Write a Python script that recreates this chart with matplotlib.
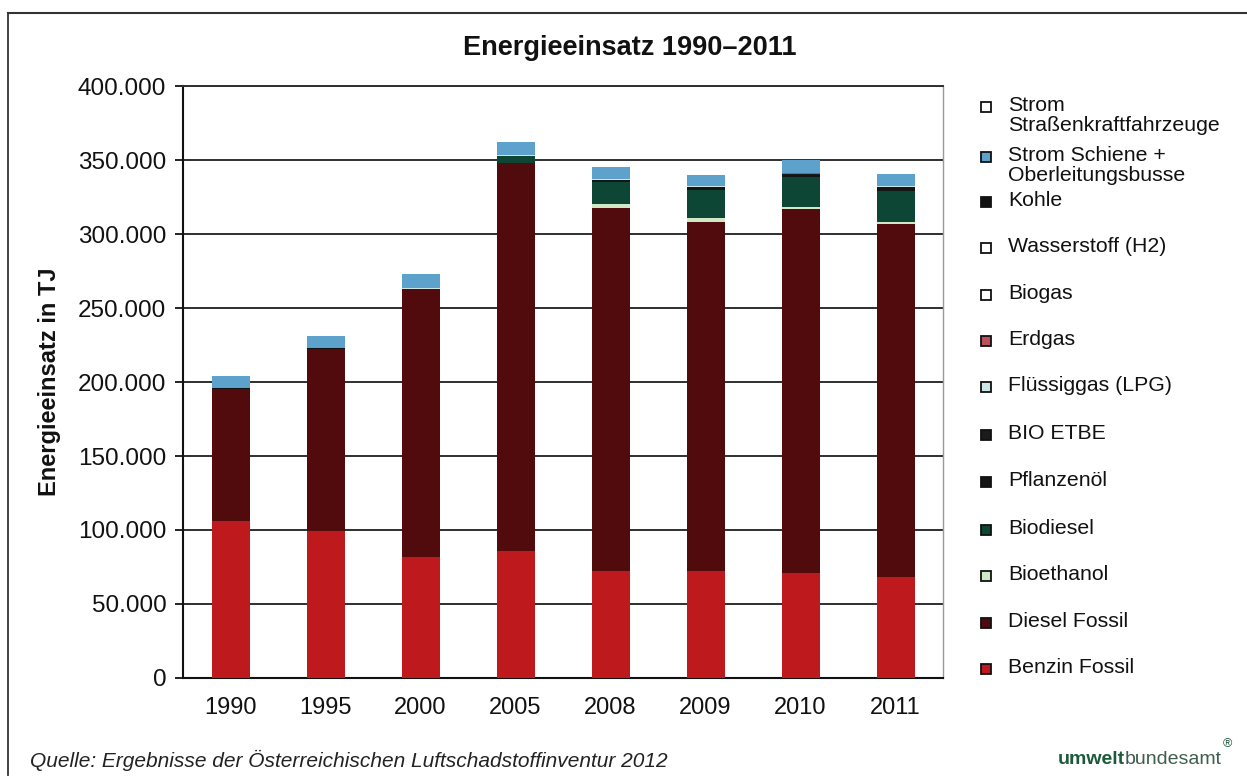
import matplotlib
matplotlib.use("Agg")
import matplotlib.pyplot as plt
from matplotlib.patches import Rectangle
from matplotlib.lines import Line2D
import numpy as np

plt.rcParams['font.family'] = ['Liberation Sans', 'DejaVu Sans']

# ---- data (TJ) -------------------------------------------------------------
years = ["1990", "1995", "2000", "2005", "2008", "2009", "2010", "2011"]

benzin_fossil = [106000, 99000, 82000, 86000, 72000, 72000, 71000, 68000]
diesel_fossil = [89000, 123000, 181000, 262000, 245500, 236000, 246000, 238500]
bioethanol = [0, 0, 0, 0, 2500, 3000, 1500, 1500]
biodiesel = [0, 0, 0, 4500, 15000, 19000, 20000, 21000]
pflanzenoel = [0, 0, 0, 300, 1500, 1500, 1500, 2500]
bio_etbe = [0, 0, 0, 0, 300, 300, 300, 300]
fluessiggas = [600, 600, 600, 500, 400, 400, 400, 400]
erdgas = [0, 0, 100, 200, 300, 300, 300, 300]
biogas = [0, 0, 0, 0, 0, 0, 0, 0]
wasserstoff = [0, 0, 0, 0, 0, 0, 0, 0]
kohle = [300, 200, 100, 50, 0, 0, 0, 0]
strom_schiene = [8000, 8500, 9500, 8500, 8000, 7500, 9000, 8000]
strom_strasse = [10, 10, 10, 10, 10, 10, 10, 10]

# stacking order, bottom to top
series = [
    ("Benzin Fossil", benzin_fossil, "#BE1A1E"),
    ("Diesel Fossil", diesel_fossil, "#520B0C"),
    ("Bioethanol", bioethanol, "#CFE9C6"),
    ("Biodiesel", biodiesel, "#0D4634"),
    ("Pflanzenöl", pflanzenoel, "#151515"),
    ("BIO ETBE", bio_etbe, "#1B1B1B"),
    ("Flüssiggas (LPG)", fluessiggas, "#CBE6E4"),
    ("Erdgas", erdgas, "#B9505A"),
    ("Biogas", biogas, "#FFFFFF"),
    ("Wasserstoff (H2)", wasserstoff, "#FFFFFF"),
    ("Kohle", kohle, "#111111"),
    ("Strom Schiene +\nOberleitungsbusse", strom_schiene, "#5DA2CD"),
    ("Strom\nStraßenkraftfahrzeuge", strom_strasse, "#FFFFFF"),
]

yticks = [0, 50000, 100000, 150000, 200000, 250000, 300000, 350000, 400000]
ytick_labels = ["0", "50.000", "100.000", "150.000", "200.000",
                "250.000", "300.000", "350.000", "400.000"]

# ---- figure ----------------------------------------------------------------
W, H = 1247, 777
fig = plt.figure(figsize=(W / 100, H / 100), dpi=100)
fig.patch.set_facecolor("white")

ax = fig.add_axes([183 / W, 1 - 678 / H, (943 - 183) / W, (678 - 86) / H])

x = np.arange(len(years))
bottom = np.zeros(len(years))
for name, vals, col in series:
    v = np.array(vals, dtype=float)
    ax.bar(x, v, width=0.4, bottom=bottom, color=col, edgecolor="none",
           zorder=3)
    bottom += v

ax.set_xlim(-0.5, len(years) - 0.5)
ax.set_ylim(0, 400000)
ax.set_yticks(yticks)
ax.set_yticklabels(ytick_labels, fontsize=17.5, color="#111111")
ax.set_xticks(x)
ax.set_xticklabels(years, fontsize=17, color="#111111")
ax.tick_params(axis="x", length=0, pad=14)
ax.tick_params(axis="y", direction="out", length=6, width=1.3,
               color="#111111", pad=6)

ax.yaxis.grid(True, color="#2f2f2f", linewidth=1.4, zorder=0)
ax.set_axisbelow(True)
for side in ("left", "bottom"):
    ax.spines[side].set_color("#111111")
    ax.spines[side].set_linewidth(1.5)
ax.spines["top"].set_color("#2f2f2f")
ax.spines["top"].set_linewidth(1.4)
ax.spines["right"].set_color("#9a9a9a")
ax.spines["right"].set_linewidth(1.0)

ax.set_ylabel("Energieeinsatz in TJ", fontsize=17, fontweight="bold",
              labelpad=12, color="#111111")

fig.text(630 / W, 1 - 48 / H, "Energieeinsatz 1990–2011", fontsize=19.5,
         fontweight="bold", ha="center", va="center", color="#111111")

# ---- legend (top entry = last stacked series) -------------------------------
legend_y = {
    "Strom\nStraßenkraftfahrzeuge": 107,
    "Strom Schiene +\nOberleitungsbusse": 157,
    "Kohle": 202,
    "Wasserstoff (H2)": 248,
    "Biogas": 295,
    "Erdgas": 341,
    "Flüssiggas (LPG)": 387,
    "BIO ETBE": 435,
    "Pflanzenöl": 482,
    "Biodiesel": 530,
    "Bioethanol": 576,
    "Diesel Fossil": 623,
    "Benzin Fossil": 669,
}
sq = 10
for name, vals, col in series:
    yy = legend_y[name]
    fig.patches.append(Rectangle(((986 - sq / 2) / W, 1 - (yy + sq / 2) / H),
                                 sq / W, sq / H, transform=fig.transFigure,
                                 facecolor=col, edgecolor="#111111",
                                 linewidth=1.3))
    fig.text(1008 / W, 1 - (yy - 11) / H, name, fontsize=15.3, ha="left",
             va="top", color="#111111", linespacing=1.08)

# ---- footer ----------------------------------------------------------------
fig.text(30 / W, 1 - 760 / H,
         "Quelle: Ergebnisse der Österreichischen Luftschadstoffinventur 2012",
         fontsize=15, style="italic", ha="left", va="center", color="#222222")

# logo: "umwelt" bold + "bundesamt" regular, right-aligned, with superscript mark
fig.canvas.draw()
r = fig.canvas.get_renderer()
reg = fig.text(1222 / W, 1 - 760 / H, "bundesamt", fontsize=14, ha="right",
               va="center", color="#3E5E4E")
bb = reg.get_window_extent(renderer=r)
fig.text(bb.x0 / W, 1 - 760 / H, "umwelt", fontsize=14, fontweight="bold",
         ha="right", va="center", color="#1E5A3A")
fig.text(1223 / W, 1 - 744 / H, "®", fontsize=9, ha="left", va="center",
         color="#1E5A3A")

# outer frame lines
fig.add_artist(Line2D([8 / W, 1], [1 - 13 / H, 1 - 13 / H],
                      transform=fig.transFigure, color="#333333", lw=1.5))
fig.add_artist(Line2D([8 / W, 8 / W], [1 - 13 / H, 1 - 775 / H],
                      transform=fig.transFigure, color="#333333", lw=1.3))

fig.savefig("out.png", dpi=100, facecolor="white")
